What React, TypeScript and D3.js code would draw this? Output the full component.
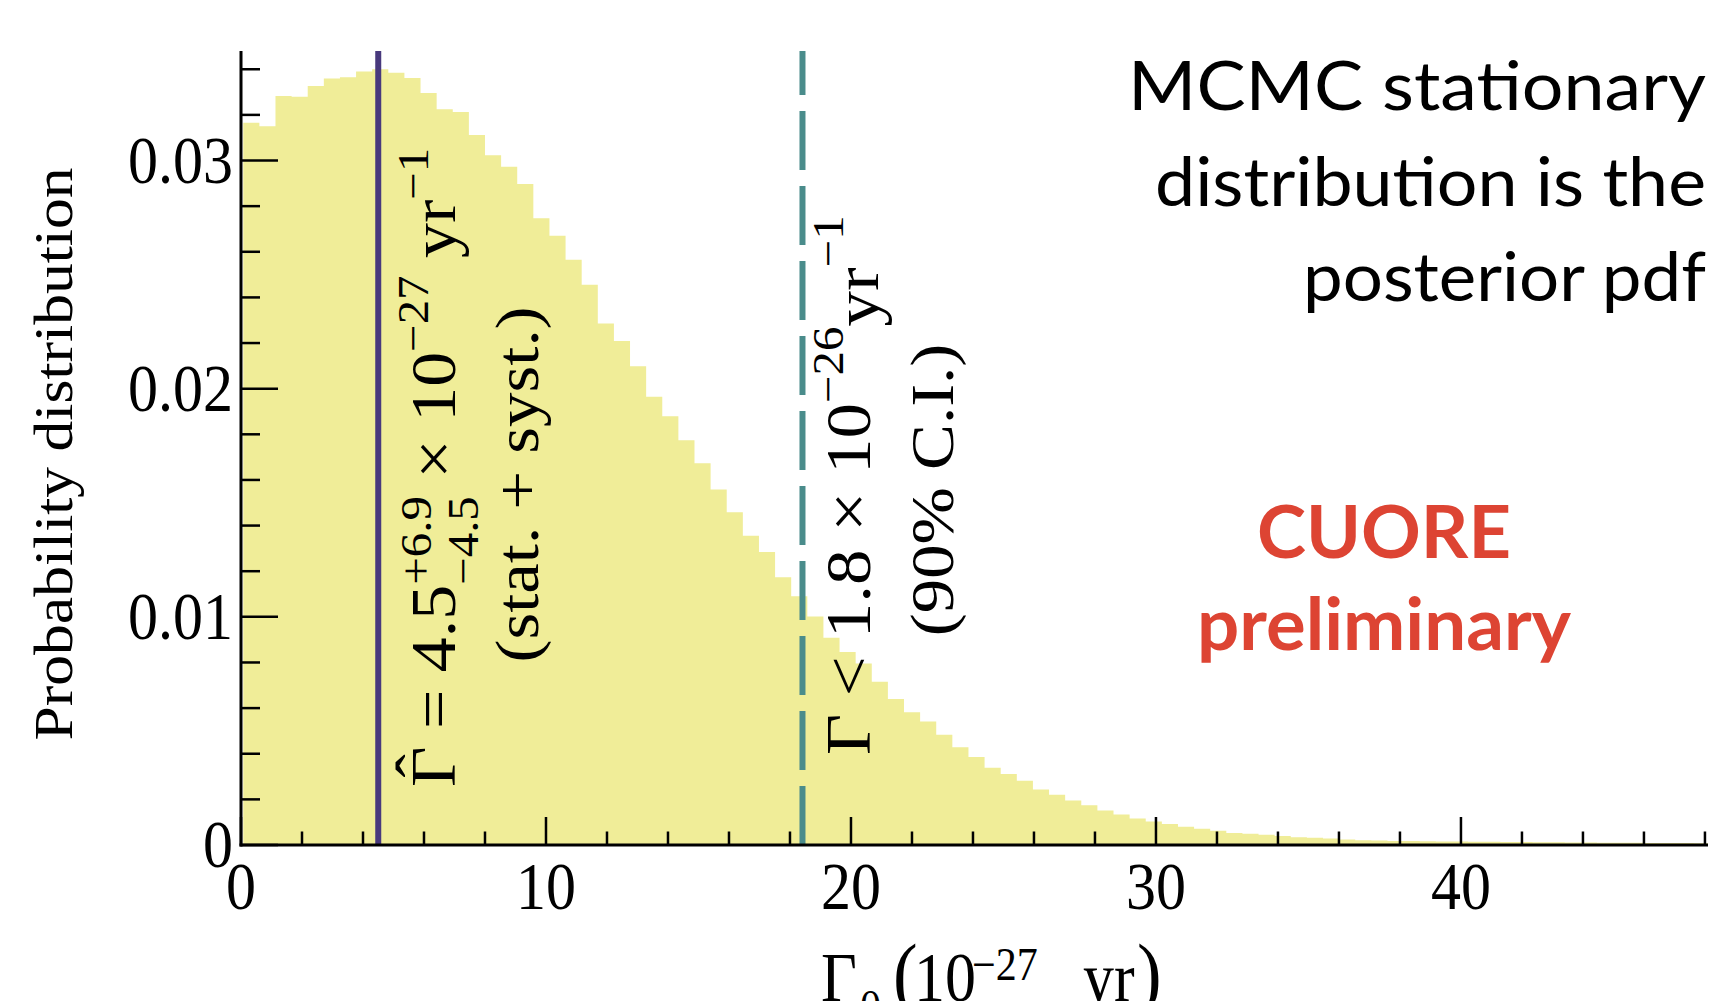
import React, { useEffect } from "react";
import * as d3 from "d3";

// ---- data ----
const binStart = 0.074;
const binWidth = 0.5284;
const density = [
  0.03166, 0.0315, 0.03283, 0.0328, 0.03327, 0.0336, 0.03365, 0.0339, 0.034, 0.03385,
  0.03362, 0.03296, 0.03225, 0.03213, 0.03112, 0.03023, 0.02973, 0.02897, 0.02747, 0.0267,
  0.02565, 0.02455, 0.02286, 0.02209, 0.02098, 0.01965, 0.01879, 0.01774, 0.01673, 0.01558,
  0.01458, 0.01355, 0.01284, 0.01173, 0.0109, 0.01002, 0.00908, 0.00846, 0.00795, 0.00715,
  0.0064, 0.00582, 0.00541, 0.00483, 0.00428, 0.00386, 0.00339, 0.00311, 0.00282, 0.00243,
  0.0022, 0.00195, 0.00174, 0.00151, 0.00134, 0.00116, 0.00103, 0.00092, 0.0008, 0.00071,
  0.00062, 0.00053, 0.00049, 0.00045, 0.00039, 0.00034, 0.00032, 0.00028, 0.00024, 0.00021,
  0.0002, 0.00018, 0.00017, 0.00016, 0.00015, 0.00015, 0.00014, 0.00014, 0.00013, 0.00013,
  0.00012, 0.00012, 0.00011, 0.00011, 0.0001, 0.0001, 0.0001, 0.00009, 0.00009, 0.00009,
  0.00008,
];
const bestFit = 4.5;
const upperLimit = 18.41;
const xDomain = [0, 48.1];
const yDomain = [0, 0.0348];
const xMajorTicks = [0, 10, 20, 30, 40];
const xMajorLabels = ["0", "10", "20", "30", "40"];
const xMinorTicks = d3.range(0, 49, 2);
const yMajorTicks = [0, 0.01, 0.02, 0.03];
const yMajorLabels = ["0", "0.01", "0.02", "0.03"];
const yMinorTicks = d3.range(0, 0.0345, 0.002);
const yAxisTitle = "Probability distribution";
const noteLines = ["MCMC stationary", "distribution is the", "posterior pdf"];
const stampLines = ["CUORE", "preliminary"];

// ---- styles ----
const W = 1717;
const H = 1001;
const SY = 1.11;
const SERIF = "'Liberation Serif', 'Times New Roman', serif";
const SANS = "Lato, 'Open Sans', 'Noto Sans', sans-serif";
const FILL = "#F0ED98";
const PURPLE = "#48397D";
const TEAL = "#4A8C8B";
const RED = "#DD4433";

const x = d3.scaleLinear().domain(xDomain).range([241, 1708]);
const y = d3.scaleLinear().domain(yDomain).range([845, 51]);

export default function App() {
  useEffect(() => {
    document.body.style.margin = "0";
  }, []);

  const pts = density.map((v, i) => ({ x0: binStart + i * binWidth, v }));
  pts.push({ x0: binStart + density.length * binWidth, v: density[density.length - 1] });
  const area = d3
    .area<{ x0: number; v: number }>()
    .x((d) => x(d.x0))
    .y0(y(0))
    .y1((d) => y(d.v))
    .curve(d3.curveStepAfter);

  const [x0, x1] = x.range();
  const [yb, yt] = y.range();

  return (
    <svg width={W} height={H} style={{ position: "absolute", left: 0, top: 0, background: "#fff" }}>
      <defs>
        <clipPath id="plot">
          <rect x={x0} y={yt} width={x1 - x0} height={yb - yt} />
        </clipPath>
      </defs>
      <path d={area(pts) || ""} fill={FILL} clipPath="url(#plot)" />

      {/* vertical markers */}
      <line x1={x(bestFit)} x2={x(bestFit)} y1={yb} y2={yt} stroke={PURPLE} strokeWidth={6} />
      <line
        x1={x(upperLimit)}
        x2={x(upperLimit)}
        y1={yb}
        y2={yt}
        stroke={TEAL}
        strokeWidth={6}
        strokeDasharray="59 16"
      />

      {/* axes */}
      <g stroke="#000">
        {xMinorTicks.map((t) => (
          <line key={"xm" + t} x1={x(t)} x2={x(t)} y1={yb} y2={yb - (t % 10 === 0 ? 28 : 13.5)} strokeWidth={2.5} />
        ))}
        {yMinorTicks.map((t, i) => (
          <line key={"ym" + i} x1={x0} x2={x0 + (i % 5 === 0 ? 37 : 19)} y1={y(t)} y2={y(t)} strokeWidth={2.5} />
        ))}
        <line x1={x0} x2={x0} y1={yt} y2={yb + 1.5} strokeWidth={3} />
        <line x1={x0 - 1.5} x2={x1} y1={yb} y2={yb} strokeWidth={3} />
      </g>

      {/* tick labels */}
      <g fontFamily={SERIF} fontSize={60} fill="#000">
        {yMajorTicks.map((t, i) => (
          <g key={"yl" + t} transform={`translate(233,${y(t)}) scale(1,${SY})`}>
            <text textAnchor="end" y={20}>
              {yMajorLabels[i]}
            </text>
          </g>
        ))}
        {xMajorTicks.map((t, i) => (
          <g key={"xl" + t} transform={`translate(${x(t)},909) scale(1,${SY})`}>
            <text textAnchor="middle">{xMajorLabels[i]}</text>
          </g>
        ))}
      </g>

      {/* axis titles */}
      <g transform={`translate(72,454) scale(1,1.12) rotate(-90)`}>
        <text textAnchor="middle" fontFamily={SERIF} fontSize={55}>
          {yAxisTitle}
        </text>
      </g>
      <g transform={`translate(0,1001) scale(1,${SY})`}>
        <text fontFamily={SERIF} fontSize={62}>
          <tspan x={821}>Γ</tspan>
          <tspan x={860} fontSize={42} dy={19}>0ν</tspan>
          <tspan x={893} fontSize={74} dy={-19}>(</tspan>
          <tspan x={914}>10</tspan>
          <tspan x={972} fontSize={42} dy={-19}>−27</tspan>
          <tspan x={1083} dy={19}>yr</tspan>
          <tspan x={1137} fontSize={74}>)</tspan>
        </text>
      </g>

      {/* annotation: best fit */}
      <g fontFamily={SERIF} fill="#000">
        <g transform={`translate(455,787) scale(1,${SY}) rotate(-90)`}>
          <text x={19} y={-15} fontSize={63} textAnchor="middle">
            ˆ
          </text>
          <text fontSize={63}>
            <tspan>{"Γ = 4.5"}</tspan>
            <tspan fontSize={44} dy={-24}>+6.9</tspan>
            <tspan fontSize={44} dx={-79.8} dy={47}>−4.5</tspan>
            <tspan dy={-23}>{" × 10"}</tspan>
            <tspan fontSize={44} dy={-27}>−27</tspan>
            <tspan dy={27}>{" yr"}</tspan>
            <tspan fontSize={44} dy={-27}>−1</tspan>
          </text>
        </g>
        <g transform={`translate(538,484.5) scale(1,${SY}) rotate(-90)`}>
          <text fontSize={62} textAnchor="middle">
            (stat. + syst.)
          </text>
        </g>

        {/* annotation: limit */}
        <g transform={`translate(870,755) scale(1,${SY}) rotate(-90)`}>
          <text fontSize={64}>
            <tspan>{"Γ < 1.8 × 10"}</tspan>
            <tspan fontSize={44} dy={-27}>−26</tspan>
            <tspan dy={35}>yr</tspan>
            <tspan fontSize={44} dy={-35}>−1</tspan>
          </text>
        </g>
        <g transform={`translate(953,490) scale(1,${SY}) rotate(-90)`}>
          <text fontSize={62} textAnchor="middle">
            (90% C.I.)
          </text>
        </g>
      </g>

      {/* top-right note */}
      <g fontFamily={SANS} fontSize={61} fill="#000">
        {[
          [1128, 110, 578],
          [1155, 205.5, 551],
          [1303, 301, 403],
        ].map(([lx, ly, len], i) => (
          <g key={"n" + i} transform={`translate(${lx},${ly}) scale(1,${SY})`}>
            <text textLength={len} lengthAdjust="spacingAndGlyphs">
              {noteLines[i]}
            </text>
          </g>
        ))}
      </g>

      {/* stamp */}
      <g fontFamily={SANS} fontWeight={700} fontSize={66} fill={RED}>
        <g transform={`translate(1257,558) scale(1,${SY})`}>
          <text textLength={254} lengthAdjust="spacingAndGlyphs">
            {stampLines[0]}
          </text>
        </g>
        <g transform={`translate(1197,650) scale(1,${SY})`}>
          <text textLength={374} lengthAdjust="spacingAndGlyphs">
            {stampLines[1]}
          </text>
        </g>
      </g>
    </svg>
  );
}
